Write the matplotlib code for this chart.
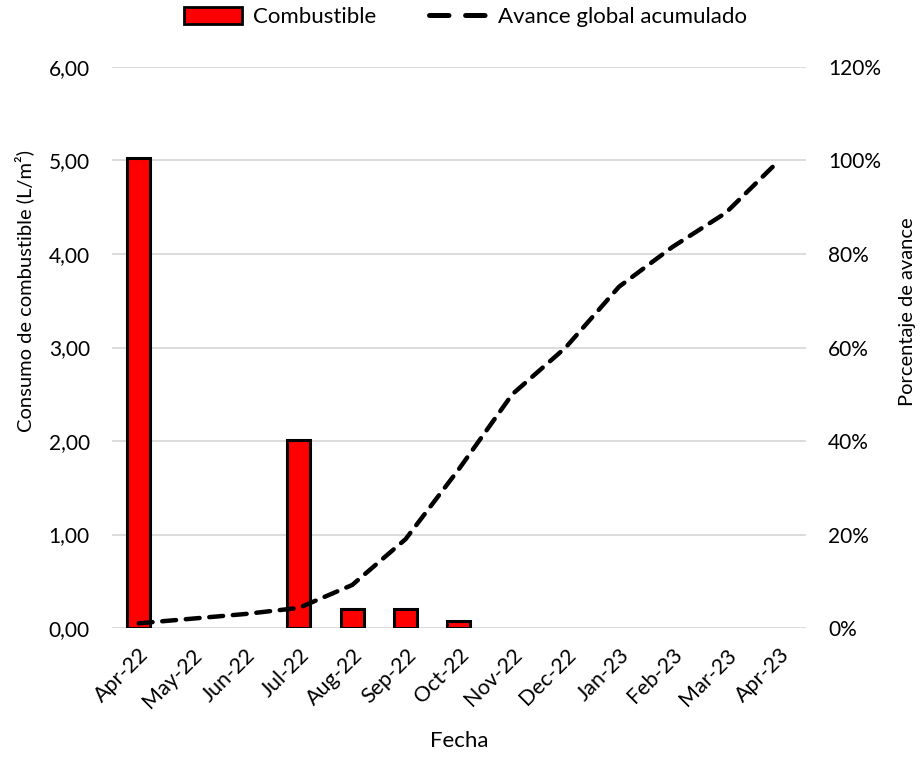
import matplotlib
matplotlib.use("Agg")
import matplotlib.pyplot as plt
from matplotlib.ticker import FuncFormatter, MultipleLocator
from matplotlib.patches import Patch
from matplotlib.lines import Line2D

plt.rcParams['font.family'] = ['Lato', 'DejaVu Sans']
plt.rcParams['lines.scale_dashes'] = False

months = ["Apr-22", "May-22", "Jun-22", "Jul-22", "Aug-22", "Sep-22", "Oct-22",
          "Nov-22", "Dec-22", "Jan-23", "Feb-23", "Mar-23", "Apr-23"]
fuel = [5.03, 0, 0, 2.01, 0.20, 0.20, 0.07, 0, 0, 0, 0, 0, 0]
progress = [0.01, 0.02, 0.03, 0.043, 0.092, 0.19, 0.34, 0.50, 0.60, 0.73, 0.815, 0.888, 1.00]

fig = plt.figure(figsize=(9.22, 7.57), dpi=100)
ax = fig.add_axes([0.1215, 0.1704, 0.7525, 0.7411])
x = list(range(len(months)))

ax.bar([i for i, v in zip(x, fuel) if v > 0], [v for v in fuel if v > 0],
       width=0.43, color="#ff0000", edgecolor="black", linewidth=2.2, zorder=3)
ax.set_ylim(0, 6)
ax.set_xlim(-0.5, len(months) - 0.5)
ax.yaxis.set_major_locator(MultipleLocator(1))
ax.yaxis.set_major_formatter(FuncFormatter(lambda v, p: f"{v:.2f}".replace(".", ",")))
ax.grid(axis="y", color="#d9d9d9", linewidth=1.3, zorder=0)
ax.set_axisbelow(True)
for s in ax.spines.values():
    s.set_visible(False)
ax.tick_params(axis="y", length=0, labelsize=15, pad=16)
ax.set_xticks(x)
ax.set_xticklabels(months, rotation=45, ha="right", va="top", rotation_mode="anchor")
ax.tick_params(axis="x", length=0, labelsize=15.5, pad=12)
ax.set_ylabel("Consumo de combustible (L/m²)", fontsize=14.5)
ax.yaxis.set_label_coords(-0.112, 0.60)
ax.set_xlabel("Fecha", fontsize=16, labelpad=14)

ax2 = ax.twinx()
ax2.plot(x, progress, color="black", linewidth=3.2, dashes=(10, 7),
         dash_capstyle="round", zorder=4)
ax2.set_ylim(0, 1.2)
ax2.yaxis.set_major_locator(MultipleLocator(0.2))
ax2.yaxis.set_major_formatter(FuncFormatter(lambda v, p: f"{v*100:.0f}%"))
for s in ax2.spines.values():
    s.set_visible(False)
ax2.tick_params(axis="y", length=0, labelsize=15, pad=16)
ax2.set_ylabel("Porcentaje de avance", fontsize=14.5)
ax2.yaxis.set_label_coords(1.135, 0.563)

handles = [Patch(facecolor="#ff0000", edgecolor="black", linewidth=2),
           Line2D([0], [0], color="black", linewidth=3.6, dashes=(14, 12),
                  dash_capstyle="round")]
fig.legend(handles, ["Combustible", "Avance global acumulado"], loc="upper center",
           bbox_to_anchor=(0.505, 1.017), ncol=2, frameon=False, fontsize=16,
           handlelength=2.6, handleheight=0.8, columnspacing=2.4, handletextpad=0.5)

fig.savefig("out.png", dpi=100)
